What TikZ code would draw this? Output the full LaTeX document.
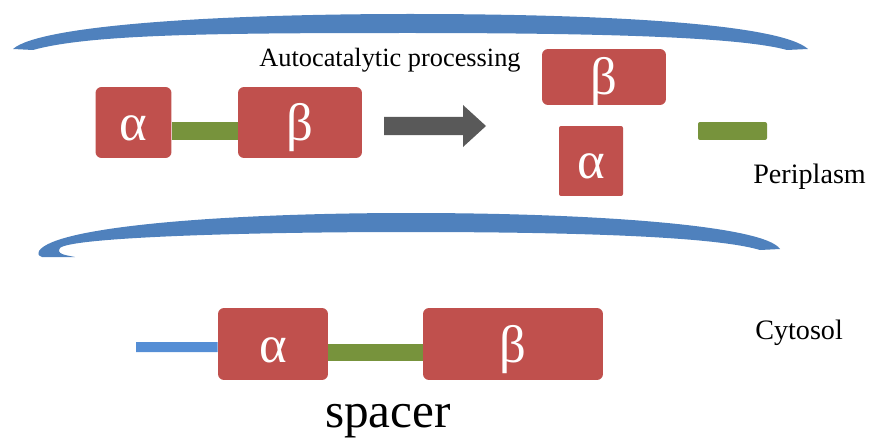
\documentclass[tikz,border=0pt]{standalone}
\usepackage{fontspec}
\setmainfont{Liberation Serif}
\usetikzlibrary{positioning}
\definecolor{subred}{HTML}{C0504D}
\definecolor{linkgreen}{HTML}{77933C}
\definecolor{membblue}{HTML}{4F81BD}
\definecolor{spacerblue}{HTML}{558ED5}
\definecolor{arrgray}{HTML}{595959}
\tikzset{
  subunit/.style={fill=subred, text=white, rounded corners=0.12cm, inner sep=0pt,
                  minimum height=1.42cm, text height=0.8cm, text depth=0.08cm,
                  font=\fontsize{30}{30}\selectfont},
  link/.style={draw=linkgreen, line width=0.36cm},
  membrane/.style={fill=membblue, draw=none},
  lbl/.style={font=\fontsize{16}{18}\selectfont, inner sep=0pt},
}

\begin{document}
\begin{tikzpicture}[x=0.02cm, y=-0.02cm]
  \useasboundingbox (0,0) rectangle (872,439);

  %% Membranes
  \fill[membrane] (13,49) .. controls (40,25) and (220,14) .. (410,14)
    .. controls (610,14) and (780,24) .. (808,49) -- (787,50)
    .. controls (740,37) and (600,33) .. (410,33)
    .. controls (220,33) and (90,34) .. (33,50) -- cycle;
  \fill[membrane] (39,251) .. controls (55,226) and (230,213) .. (410,213)
    .. controls (600,213) and (765,226) .. (780,249) -- (760,250)
    .. controls (720,238) and (600,232) .. (410,232)
    .. controls (230,232) and (70,238) .. (60,248)
    .. controls (56,254) and (65,255) .. (75,257) -- (42,257)
    .. controls (38,255) .. cycle;

  %% Periplasm: precursor and cleaved subunits
  \node[lbl, font=\fontsize{15}{17}\selectfont, anchor=base west] (proc) at (259,67) {Autocatalytic processing};
  \node[subunit, minimum width=1.52cm] (alphaPre) at (133.5,122.5) {α};
  \node[subunit, minimum width=2.48cm] (betaPre) at (300,122.5) {β};
  \draw[link] ([yshift=-0.17cm]alphaPre.east) -- ([yshift=-0.17cm]betaPre.west);

  % processing arrow
  \fill[arrgray] (384,117) -- (463,117) -- (463,105) -- (486,126)
    -- (463,147) -- (463,135) -- (384,135) -- cycle;

  \node[subunit, minimum width=2.48cm, minimum height=1.12cm] (betaCut) at (604,77) {β};
  \node[subunit, minimum width=1.28cm, minimum height=1.4cm, rounded corners=0.04cm] (alphaCut) at (591,161) {α};
  \node[fill=linkgreen, rounded corners=0.04cm, minimum width=1.38cm, minimum height=0.36cm,
        inner sep=0pt] (linkCut) at (732.5,131) {};
  \node[lbl, anchor=base west] (peri) at (753,183) {Periplasm};

  %% Cytosol: unprocessed precursor
  \coordinate (spacerEnd) at (136,347);
  \node[subunit, minimum width=2.2cm, minimum height=1.44cm] (alphaCyto) at (273,344) {α};
  \node[subunit, minimum width=3.6cm, minimum height=1.44cm] (betaCyto) at (513,344) {β};
  \draw[draw=spacerblue, line width=0.2cm] (spacerEnd) -- ([yshift=-0.06cm]alphaCyto.west);
  \draw[link] ([yshift=-0.17cm]alphaCyto.east) -- ([yshift=-0.17cm]betaCyto.west);
  \node[lbl, anchor=base west] (cyto) at (755,339) {Cytosol};
  \node[lbl, font=\fontsize{28}{30}\selectfont, anchor=base] (spacer) at (388,427) {spacer};

\end{tikzpicture}
\end{document}
